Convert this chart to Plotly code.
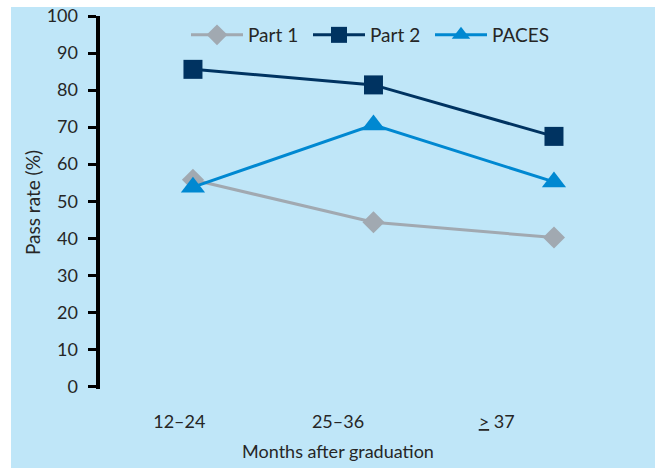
import plotly.graph_objects as go

categories = ["12–24", "25–36", "<u>></u> 37"]
part1 = [55.8, 44.3, 40.2]
part2 = [85.6, 81.4, 67.5]
paces = [53.8, 70.6, 55.2]
y_ticks = list(range(0, 101, 10))

FONT = "Lato"
TXT = "#262626"
BG = "#BFE6F8"
FS = 18

# page geometry (pixels)
W, H = 655, 468
L, R, T, B = 60, 79, 16, 79
AX_LEFT = 100          # pixel x of the y axis line
LABEL_POS = 78         # pixel x where the y tick labels are anchored
pw, ph = W - L - R, H - T - B
dom0 = (AX_LEFT - L) / pw


def px(x):
    return (x - L) / pw


def py(y):
    return (H - B - y) / ph


fig = go.Figure()

series = [
    ("Part 1", part1, "#A1A9B1", "diamond", 17),
    ("Part 2", part2, "#003361", "square", 19),
    ("PACES", paces, "#0088D1", "triangle-up", 21),
]
for name, vals, col, sym, sz in series:
    fig.add_trace(go.Scatter(
        x=categories, y=vals, name=name, mode="lines+markers",
        line=dict(color=col, width=3),
        marker=dict(symbol=sym, size=sz, color=col),
        xaxis="x3", yaxis="y",
    ))

n = len(categories)
fig.update_layout(
    width=W, height=H,
    margin=dict(l=L, r=R, t=T, b=B, autoexpand=False),
    paper_bgcolor="white",
    plot_bgcolor="rgba(0,0,0,0)",
    font=dict(family=FONT, size=FS, color=TXT),
    showlegend=True,
    legend=dict(orientation="h", x=px(186), y=1.0, xanchor="left", yanchor="top",
                bgcolor="rgba(0,0,0,0)", font=dict(size=19, color=TXT),
                itemwidth=52, entrywidth=55, entrywidthmode="pixels",
                traceorder="normal"),
    xaxis=dict(domain=[dom0, 1], range=[0, n], tickvals=list(range(n + 1)),
               showticklabels=False,
               ticks="outside", ticklen=8, tickwidth=2.5, tickcolor="black",
               showline=True, linewidth=3.5, linecolor="black", automargin=False,
               showgrid=False, zeroline=False, fixedrange=True),
    xaxis2=dict(domain=[dom0, 1], overlaying="x", side="bottom", range=[0, n],
                tickvals=[i + 0.5 for i in range(n)], ticktext=categories,
                ticks="", ticklabelstandoff=20, showline=False, showgrid=False,
                zeroline=False, automargin=False,
                title=dict(text="Months after graduation", standoff=14,
                           font=dict(size=FS, color=TXT))),
    xaxis3=dict(domain=[dom0, 1], overlaying="x", type="category",
                range=[-0.515, 2.122],
                visible=False, showgrid=False, automargin=False),
    yaxis=dict(range=[-0.7, 100], tickvals=y_ticks, showticklabels=False,
               ticks="outside", ticklen=8, tickwidth=2.5, tickcolor="black",
               showline=True, linewidth=3.5, linecolor="black", automargin=False,
               showgrid=False, zeroline=False),
    yaxis2=dict(overlaying="y", anchor="free", position=px(LABEL_POS), side="left",
                range=[-0.7, 100], tickvals=y_ticks, ticks="", showline=False,
                showgrid=False, zeroline=False, automargin=False,
                tickfont=dict(size=FS, color=TXT)),
    annotations=[dict(text="Pass rate (%)", xref="paper", yref="paper",
                      x=px(32), y=py(203), textangle=-90,
                      showarrow=False, xanchor="center", yanchor="middle",
                      font=dict(size=19, color=TXT))],
    shapes=[dict(type="rect", xref="paper", yref="paper",
                 x0=px(11), x1=px(W + 5), y0=py(H + 5), y1=py(7),
                 fillcolor=BG, line=dict(width=0), layer="below")],
)
fig.add_trace(go.Scatter(x=[0.5], y=[None], xaxis="x2", yaxis="y",
                         showlegend=False, hoverinfo="skip"))
fig.add_trace(go.Scatter(x=[0.5], y=[None], xaxis="x2", yaxis="y2",
                         showlegend=False, hoverinfo="skip"))

fig.write_html("out.html", config={"displayModeBar": False},
               post_script="document.body.style.margin='0';document.body.style.overflow='hidden';")
